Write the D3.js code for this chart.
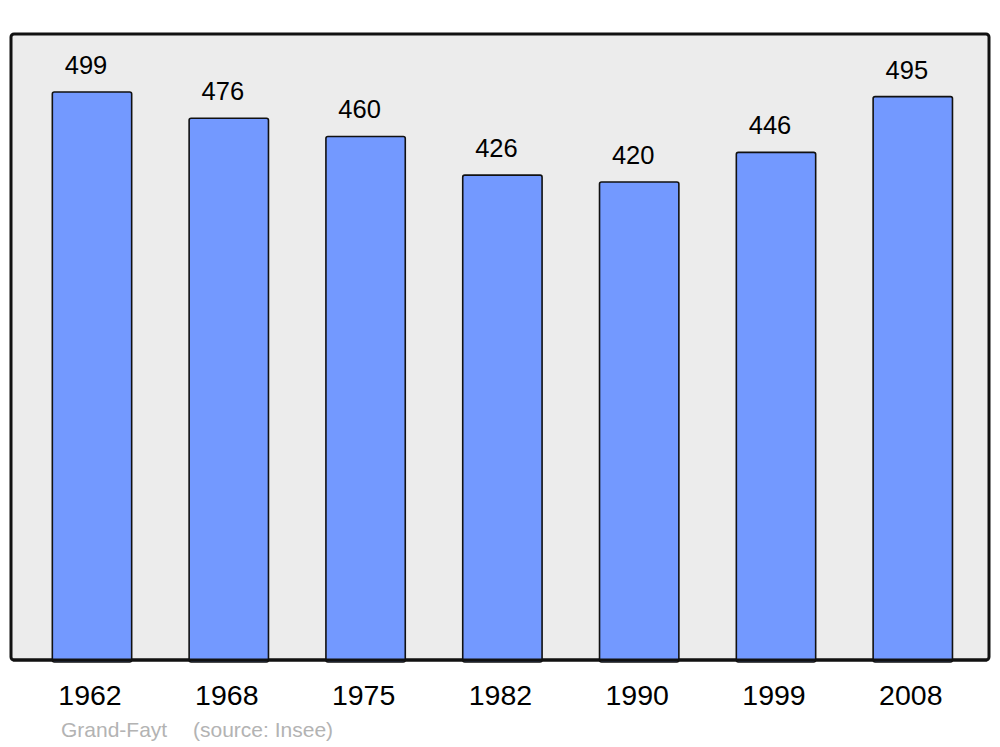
<!DOCTYPE html>
<html>
<head>
<meta charset="utf-8">
<script src="https://cdn.jsdelivr.net/npm/d3@7"></script>
<style>
  body { margin: 0; background: #fff; }
  text { font-family: "Liberation Sans", Arial, sans-serif; }
</style>
</head>
<body>
<svg id="chart" width="1000" height="747"></svg>
<script>
// population data
const years = ['1962', '1968', '1975', '1982', '1990', '1999', '2008']
const population = [499, 476, 460, 426, 420, 446, 495]
const commune = 'Grand-Fayt'
const source = '(source: Insee)'

let svg = d3.select('#chart')
let panel = { left: 11, right: 989, top: 34, bottom: 660 }

let x = d3.scaleBand().domain(years).range([23.6, 981.2])
    .paddingInner(0.42).paddingOuter(0.21)
let y = d3.scaleLinear().domain([0, 550]).range([panel.bottom, panel.top])

svg.append('rect')
    .attr('x', panel.left).attr('y', panel.top)
    .attr('width', panel.right - panel.left).attr('height', panel.bottom - panel.top)
    .attr('rx', 3).attr('ry', 3)
    .attr('fill', '#ececec').attr('stroke', '#111').attr('stroke-width', 3)

let data = years.map((yr, i) => ({ year: yr, value: population[i] }))

svg.selectAll('.bar')
    .data(data)
    .enter().append('rect')
    .attr('class', 'bar')
    .attr('x', d => x(d.year))
    .attr('y', d => y(d.value))
    .attr('width', x.bandwidth())
    .attr('height', d => y(0) - y(d.value) + 2)
    .attr('rx', 2).attr('ry', 2)
    .attr('fill', '#7399ff').attr('stroke', '#111').attr('stroke-width', 1.6)

// redraw bottom edge of panel over the bars
svg.append('line')
    .attr('x1', panel.left + 2).attr('x2', panel.right - 2)
    .attr('y1', panel.bottom).attr('y2', panel.bottom)
    .attr('stroke', '#111').attr('stroke-width', 3)

svg.selectAll('.val')
    .data(data)
    .enter().append('text')
    .attr('class', 'val')
    .attr('x', d => x(d.year) + x.bandwidth() / 2 - 6)
    .attr('y', d => y(d.value) - 18)
    .attr('text-anchor', 'middle')
    .attr('font-size', 25.5)
    .attr('fill', '#000')
    .text(d => d.value)

svg.selectAll('.year')
    .data(years)
    .enter().append('text')
    .attr('class', 'year')
    .attr('x', d => x(d) + x.bandwidth() / 2 - 2)
    .attr('y', 705)
    .attr('text-anchor', 'middle')
    .attr('font-size', 28.5)
    .attr('fill', '#000')
    .text(d => d)

svg.append('text')
    .attr('x', 61).attr('y', 737)
    .attr('font-size', 21).attr('fill', '#b3b3b3')
    .text(commune)
svg.append('text')
    .attr('x', 193).attr('y', 737)
    .attr('font-size', 21).attr('fill', '#b3b3b3')
    .text(source)
</script>
</body>
</html>
